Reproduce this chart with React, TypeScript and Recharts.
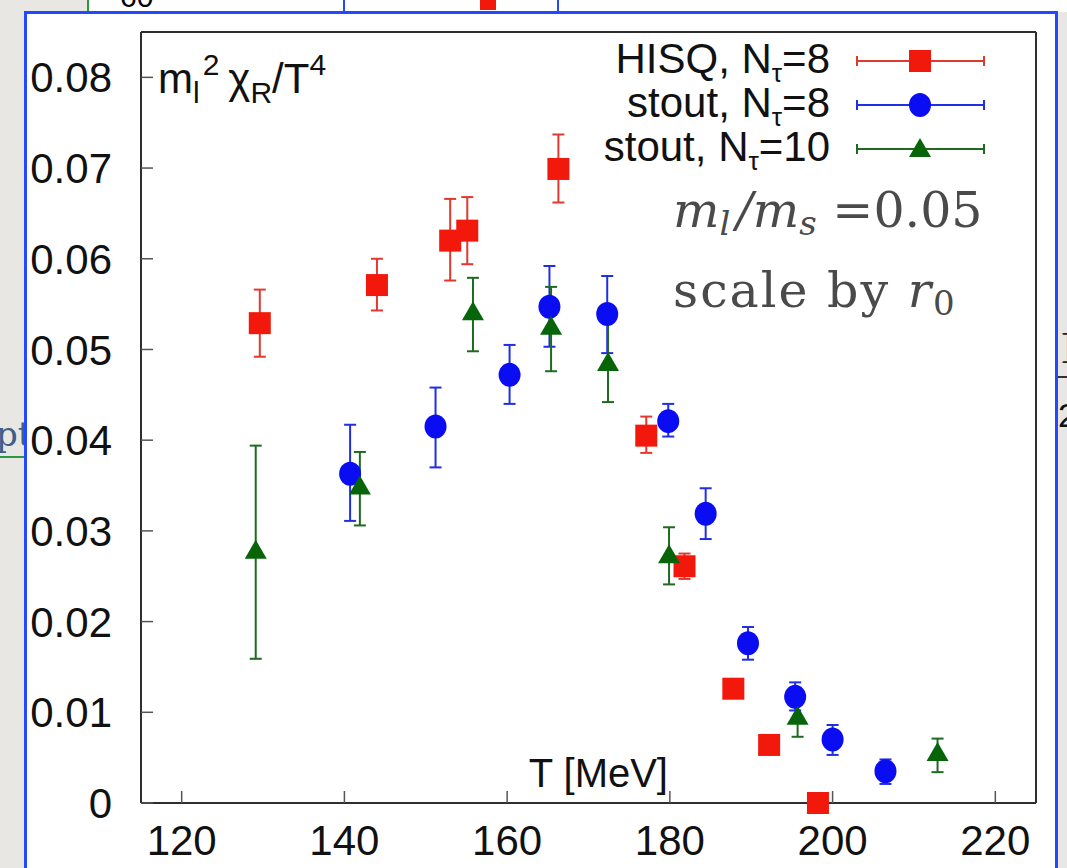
import React from 'react';
import { ScatterChart, Scatter, XAxis, YAxis, ErrorBar, Legend, Label } from 'recharts';

const SANS = '"Liberation Sans", Arial, Helvetica, sans-serif';
const SERIF = '"DejaVu Serif", "Liberation Serif", serif';

// axes
const tTicks = [120, 140, 160, 180, 200, 220];
const chiTicks = [0, 0.01, 0.02, 0.03, 0.04, 0.05, 0.06, 0.07, 0.08];

// HISQ, Nt=8
const hisqT = [129.6, 144.0, 153.0, 155.1, 166.3, 177.1, 181.8, 187.8, 192.2, 198.2];
const hisqChi = [0.0529, 0.0571, 0.0620, 0.0631, 0.0699, 0.0405, 0.0261, 0.0126, 0.0064, 0.0];
const hisqLow = [0.0492, 0.0543, 0.0576, 0.0594, 0.0662, 0.0386, 0.0247, 0.0126, 0.0064, 0.0];
const hisqHigh = [0.0566, 0.0600, 0.0666, 0.0668, 0.0737, 0.0426, 0.0275, 0.0126, 0.0064, 0.0];

// stout, Nt=8
const stout8T = [140.7, 151.2, 160.3, 165.2, 172.3, 179.8, 184.4, 189.6, 195.4, 200.0, 206.5];
const stout8Chi = [0.0363, 0.0415, 0.0472, 0.0547, 0.0539, 0.0421, 0.0319, 0.0176, 0.0117, 0.0070, 0.0035];
const stout8Low = [0.0311, 0.0370, 0.0440, 0.0503, 0.0496, 0.0404, 0.0291, 0.0158, 0.0102, 0.0053, 0.0021];
const stout8High = [0.0417, 0.0458, 0.0505, 0.0592, 0.0581, 0.0440, 0.0347, 0.0194, 0.0133, 0.0086, 0.0048];

// stout, Nt=10
const stout10T = [129.1, 141.9, 155.8, 165.4, 172.4, 179.9, 195.7, 212.9];
const stout10Chi = [0.0278, 0.0349, 0.0541, 0.0525, 0.0485, 0.0273, 0.0095, 0.0055];
const stout10Low = [0.0159, 0.0306, 0.0498, 0.0476, 0.0442, 0.0241, 0.0073, 0.0034];
const stout10High = [0.0394, 0.0387, 0.0579, 0.0569, 0.0530, 0.0304, 0.0117, 0.0071];

const rows = (t: number[], v: number[], lo: number[], hi: number[]) =>
  t.map((T, i) => ({ T, chi: v[i], err: [v[i] - lo[i], hi[i] - v[i]] }));

const Square = (p: any) => <rect x={p.cx - 11} y={p.cy - 11} width={22} height={22} fill="#f2190c" />;
const Dot = (p: any) => <ellipse cx={p.cx} cy={p.cy} rx={11} ry={12} fill="#0a0cf2" />;
const Tri = (p: any) => (
  <polygon points={`${p.cx},${p.cy - 11} ${p.cx + 11},${p.cy + 8} ${p.cx - 11},${p.cy + 8}`} fill="#086408" />
);

const series = [
  { key: 'hisq', name: 'HISQ, N', sub: 'τ', tail: '=8', data: rows(hisqT, hisqChi, hisqLow, hisqHigh), bar: '#e2392f', shape: Square },
  { key: 's8', name: 'stout, N', sub: 'τ', tail: '=8', data: rows(stout8T, stout8Chi, stout8Low, stout8High), bar: '#1f2fe6', shape: Dot },
  { key: 's10', name: 'stout, N', sub: 'τ', tail: '=10', data: rows(stout10T, stout10Chi, stout10Low, stout10High), bar: '#1e6a1e', shape: Tri },
];

const TICK = 12;
const X_GAP = 22;
const Y_GAP = 29;
const tickStroke = '#555';

// gnuplot style: ticks point into the frame
const XTick = (p: any) => {
  const axisY = p.y - X_GAP;
  return (
    <g>
      <line x1={p.x} y1={axisY} x2={p.x} y2={axisY - TICK} stroke={tickStroke} strokeWidth={1.5} />
      <text x={p.x} y={p.y} dy="0.71em" textAnchor="middle" fontSize={42} fontFamily={SANS} fill="#111">
        {p.payload.value}
      </text>
    </g>
  );
};

const YTick = (p: any) => {
  const axisX = p.x + Y_GAP;
  return (
    <g>
      <line x1={axisX} y1={p.y} x2={axisX + TICK} y2={p.y} stroke={tickStroke} strokeWidth={1.5} />
      <text x={p.x} y={p.y} dy="0.36em" textAnchor="end" fontSize={42} fontFamily={SANS} fill="#111">
        {p.payload.value === 0 ? '0' : p.payload.value.toFixed(2)}
      </text>
    </g>
  );
};

const TopTick = (p: any) => (
  <line x1={p.x} y1={p.y} x2={p.x} y2={p.y + TICK} stroke={tickStroke} strokeWidth={1.5} />
);

const RightTick = (p: any) => (
  <line x1={p.x} y1={p.y} x2={p.x - TICK} y2={p.y} stroke={tickStroke} strokeWidth={1.5} />
);

const XName = (p: any) => {
  const vb = p.viewBox;
  return (
    <text x={vb.x + vb.width * 0.511} y={vb.y - 16} textAnchor="middle" fontSize={40} fontFamily={SANS} fill="#111">
      T [MeV]
    </text>
  );
};

const YName = (p: any) => {
  const vb = p.viewBox;
  return (
    <text x={vb.x + vb.width + 17} y={vb.y + 61} fontSize={42} fontFamily={SANS} fill="#111">
      <tspan>m</tspan>
      <tspan dy={10} fontSize={30}>l</tspan>
      <tspan dy={-28} dx={3} fontSize={30}>2</tspan>
      <tspan dy={18} dx={9}>χ</tspan>
      <tspan dy={10} fontSize={30}>R</tspan>
      <tspan dy={-10}>/T</tspan>
      <tspan dy={-18} fontSize={30}>4</tspan>
    </text>
  );
};

const LegendBox = () => (
  <div style={{ position: 'absolute', left: 536, top: 39, fontFamily: SANS, fontSize: 42, color: '#111' }}>
    {series.map((s) => (
      <div key={s.key} style={{ display: 'flex', alignItems: 'center', height: 44 }}>
        <div style={{ width: 294, textAlign: 'right', lineHeight: '44px', whiteSpace: 'nowrap' }}>
          {s.name}
          <span style={{ fontSize: 26, position: 'relative', top: 9 }}>{s.sub}</span>
          {s.tail}
        </div>
        <svg width={160} height={44} style={{ display: 'block' }}>
          <line x1={27} y1={22} x2={154} y2={22} stroke={s.bar} strokeWidth={2} />
          <line x1={27} y1={17} x2={27} y2={27} stroke={s.bar} strokeWidth={2} />
          <line x1={154} y1={17} x2={154} y2={27} stroke={s.bar} strokeWidth={2} />
          {s.shape({ cx: 90, cy: 22 })}
        </svg>
      </div>
    ))}
  </div>
);

const frame = { stroke: '#2e2e2e', strokeWidth: 2 };

export default function App() {
  return (
    <div style={{ position: 'absolute', left: 0, top: 0, width: 1067, height: 868, overflow: 'hidden', background: '#e9e7e3' }}>
      {/* bits of the slide behind */}
      <div style={{ position: 'absolute', left: 88, top: 0, width: 979, height: 12, background: '#fff' }} />
      <div style={{ position: 'absolute', left: 87, top: 0, width: 2, height: 12, background: '#2b9a33' }} />
      <div style={{ position: 'absolute', left: 343, top: 0, width: 2, height: 12, background: '#2448ff' }} />
      <div style={{ position: 'absolute', left: 557, top: 0, width: 2, height: 12, background: '#2448ff' }} />
      <div style={{ position: 'absolute', left: 480, top: 0, width: 16, height: 10, background: '#f2190c' }} />
      <div style={{ position: 'absolute', left: 120, top: -20, fontFamily: SANS, fontSize: 30 }}>60</div>
      <div style={{ position: 'absolute', left: -4, top: 414, fontFamily: SERIF, fontSize: 34, color: '#3c5f8c' }}>pt</div>
      <div style={{ position: 'absolute', left: 0, top: 456, width: 28, height: 2, background: '#2a9a3a' }} />
      <div style={{ position: 'absolute', left: 1060, top: 326, fontFamily: SERIF, fontSize: 34, color: '#222' }}>]</div>
      <div style={{ position: 'absolute', left: 1058, top: 376, width: 9, height: 2, background: '#333' }} />
      <div style={{ position: 'absolute', left: 1058, top: 396, fontFamily: SANS, fontSize: 34, color: '#111' }}>2</div>

      {/* slide panel */}
      <div
        style={{
          position: 'absolute', left: 24, top: 11, width: 1034, height: 900,
          border: '3px solid #2448ff', background: '#fff', boxSizing: 'border-box',
        }}
      />

      <div style={{ position: 'absolute', left: 0, top: 0 }}>
        <ScatterChart width={1067} height={868} margin={{ top: 31, right: 30, bottom: 0, left: 0 }}>
          <XAxis
            dataKey="T" type="number" domain={[115, 225]} ticks={tTicks} interval={0}
            height={65} tickSize={0} tickMargin={X_GAP} tick={XTick}
            axisLine={frame} tickLine={false}
          >
            <Label content={XName} />
          </XAxis>
          <XAxis
            xAxisId="top" orientation="top" type="number" domain={[115, 225]} ticks={tTicks} interval={0}
            height={1} tickSize={0} tickMargin={0} tick={TopTick}
            axisLine={frame} tickLine={false}
          />
          <YAxis
            dataKey="chi" type="number" domain={[0, 0.085]} ticks={chiTicks} interval={0}
            width={141} tickSize={0} tickMargin={Y_GAP} tick={YTick}
            axisLine={frame} tickLine={false}
          >
            <Label content={YName} />
          </YAxis>
          <YAxis
            yAxisId="right" orientation="right" type="number" domain={[0, 0.085]} ticks={chiTicks} interval={0}
            width={1} tickSize={0} tickMargin={0} tick={RightTick}
            axisLine={frame} tickLine={false}
          />
          {series.map((s) => (
            <Scatter key={s.key} name={s.key} data={s.data} shape={s.shape} isAnimationActive={false}>
              <ErrorBar dataKey="err" direction="y" width={6} stroke={s.bar} strokeWidth={2} isAnimationActive={false} />
            </Scatter>
          ))}
          <Legend
            layout="vertical" align="center" verticalAlign="middle"
            wrapperStyle={{ left: 0, top: 0, width: 0, height: 0 }}
            content={LegendBox}
          />
        </ScatterChart>
      </div>

      {/* annotation */}
      <div style={{ position: 'absolute', left: 673, top: 186, fontFamily: SERIF, fontSize: 49, lineHeight: '49px', color: '#4a4a4a', whiteSpace: 'nowrap' }}>
        <i>m</i><i style={{ fontSize: 34, position: 'relative', top: 8 }}>l</i>
        <i style={{ marginLeft: 6 }}>/</i><i>m</i><i style={{ fontSize: 34, position: 'relative', top: 8 }}>s</i> =0.05
      </div>
      <div style={{ position: 'absolute', left: 673, top: 266, fontFamily: SERIF, fontSize: 49, lineHeight: '49px', letterSpacing: 2, color: '#4a4a4a', whiteSpace: 'nowrap' }}>
        scale by <i>r</i><span style={{ fontSize: 34, position: 'relative', top: 8 }}>0</span>
      </div>
    </div>
  );
}
